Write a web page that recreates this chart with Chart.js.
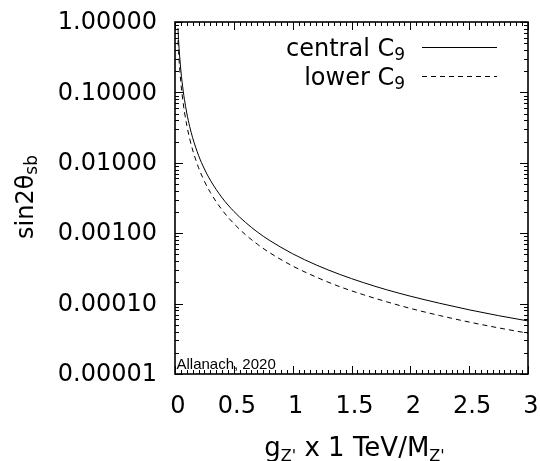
<!DOCTYPE html>
<html><head><meta charset="utf-8">
<script src="https://cdn.jsdelivr.net/npm/chart.js@4"></script>
<style>html,body{margin:0;padding:0;background:#fff}#wrap{width:540px;height:461px}</style>
</head><body><div id="wrap"><canvas id="c" width="540" height="461"></canvas></div>
<script>
// ---- data ----
const gValues   = [0.025, 0.03, 0.035, 0.04, 0.05, 0.06, 0.07, 0.08, 0.1, 0.125, 0.15, 0.2, 0.25, 0.3, 0.4, 0.5, 0.6, 0.7, 0.8, 1.0, 1.2, 1.4, 1.6, 1.8, 2.0, 2.25, 2.5, 2.75, 3.0];
const centralC9 = [0.816, 0.567, 0.416, 0.319, 0.204, 0.142, 0.104, 0.0797, 0.051, 0.0326, 0.0227, 0.01275, 0.00816, 0.00567, 0.00319, 0.00204, 0.00142, 0.00104, 0.000797, 0.00051, 0.000354, 0.00026, 0.000199, 0.000157, 0.0001275, 0.000101, 0.0000816, 0.0000674, 0.0000567];
const lowerC9   = [0.547, 0.380, 0.279, 0.214, 0.137, 0.095, 0.0698, 0.0534, 0.0342, 0.0219, 0.0152, 0.00855, 0.00547, 0.0038, 0.00214, 0.00137, 0.00095, 0.000698, 0.000534, 0.000342, 0.000238, 0.000174, 0.000134, 0.000106, 0.0000855, 0.0000676, 0.0000547, 0.0000452, 0.000038];
const seriesLabels = ['central', 'lower'];
const xTickValues = [0, 0.5, 1, 1.5, 2, 2.5, 3];
const xTickLabels = ['0', '0.5', '1', '1.5', '2', '2.5', '3'];
const yTickValues = [1e-5, 1e-4, 1e-3, 1e-2, 1e-1, 1];
const yTickLabels = ['0.00001', '0.00010', '0.00100', '0.01000', '0.10000', '1.00000'];
const creditText = 'Allanach, 2020';

const FONT = '"DejaVu Sans", sans-serif';

function toPts(xs, ys){ return xs.map((v,i)=>({x:v, y:ys[i]})); }
function zeroPad(s){ s.paddingTop = 0; s.paddingBottom = 0; s.paddingLeft = 0; s.paddingRight = 0; }

const decorPlugin = {
  id: 'decor',
  afterDatasetsDraw(chart){
    const {ctx, chartArea:a, scales:{x, y}} = chart;
    ctx.save();
    ctx.strokeStyle = '#000';
    ctx.lineWidth = 1;
    const seg = (x1,y1,x2,y2)=>{ctx.beginPath();ctx.moveTo(x1,y1);ctx.lineTo(x2,y2);ctx.stroke();};
    // x ticks (major 0.5, minor 0.05), inward, bottom and top
    for (let i=0;i<=60;i++){
      const px = Math.round(x.getPixelForValue(i*0.05)) + 0.5;
      const len = (i%10===0) ? 8 : 4;
      seg(px, a.bottom, px, a.bottom-len);
      seg(px, a.top, px, a.top+len);
    }
    // y ticks (log), inward, left and right
    for (let e=-5;e<=0;e++){
      for (let m=1;m<=9;m++){
        const v = m*Math.pow(10,e);
        if (v > 1.000001) break;
        const py = Math.round(y.getPixelForValue(v)) + 0.5;
        const len = (m===1) ? 8 : 4;
        seg(a.left, py, a.left+len, py);
        seg(a.right, py, a.right-len, py);
      }
    }
    // frame
    ctx.lineWidth = 1.6;
    ctx.strokeRect(a.left, a.top, a.right-a.left, a.bottom-a.top);

    // legend
    ctx.fillStyle = '#000';
    ctx.textBaseline = 'alphabetic';
    const big = '24px ' + FONT, small = '17px ' + FONT;
    const rightEdge = 405;
    const rows = [{y:47.3, label:seriesLabels[0], dash:[]},{y:75.7, label:seriesLabels[1], dash:[5,4]}];
    rows.forEach(r=>{
      ctx.font = small; const w9 = ctx.measureText('9').width;
      ctx.font = big; const main = r.label + ' C'; const wm = ctx.measureText(main).width;
      const base = r.y + 9;
      ctx.fillText(main, rightEdge - w9 - wm, base);
      ctx.font = small; ctx.fillText('9', rightEdge - w9, base + 4);
      ctx.lineWidth = 1; ctx.setLineDash(r.dash);
      seg(422, Math.round(r.y)+0.5, 497, Math.round(r.y)+0.5);
      ctx.setLineDash([]);
    });

    // credit
    ctx.font = '15px "Liberation Sans", Arial, sans-serif';
    ctx.fillText(creditText, 176.5, 368.5);

    // x title
    const tBig = '26px ' + FONT, tSmall = '16px ' + FONT;
    const parts = [['g',tBig,0],["Z'",tSmall,5],[' x 1 TeV/M',tBig,0],["Z'",tSmall,5]];
    let tot = 0; parts.forEach(p=>{ctx.font=p[1]; tot += ctx.measureText(p[0]).width;});
    let cx = 354.5 - tot/2;
    parts.forEach(p=>{ctx.font=p[1]; ctx.fillText(p[0], cx, 456 + p[2]); cx += ctx.measureText(p[0]).width;});

    // y title (rotated)
    ctx.translate(33, 197);
    ctx.rotate(-Math.PI/2);
    const yp = [['sin2θ',big,0],['sb',small,4]];
    tot = 0; yp.forEach(p=>{ctx.font=p[1]; tot += ctx.measureText(p[0]).width;});
    cx = -tot/2;
    yp.forEach(p=>{ctx.font=p[1]; ctx.fillText(p[0], cx, p[2]); cx += ctx.measureText(p[0]).width;});
    ctx.restore();
  }
};

new Chart(document.getElementById('c'), {
  type: 'line',
  data: {
    datasets: [
      {label: seriesLabels[0], data: toPts(gValues, centralC9), borderColor:'#000', borderWidth:1, pointRadius:0, fill:false, cubicInterpolationMode:'monotone'},
      {label: seriesLabels[1], data: toPts(gValues, lowerC9), borderColor:'#000', borderWidth:1, borderDash:[5,4], pointRadius:0, fill:false, cubicInterpolationMode:'monotone'}
    ]
  },
  options: {
    responsive: false,
    animation: false,
    layout: {padding: {left:0, right:12, top:22, bottom:0}},
    plugins: {legend:{display:false}, tooltip:{enabled:false}},
    scales: {
      x: {
        type:'linear', min:0, max:3,
        afterBuildTicks: s => { s.ticks = xTickValues.map(v=>({value:v})); },
        afterFit: s => { s.height = 87; zeroPad(s); },
        ticks: {font:{family:FONT, size:24}, color:'#000', padding:18, labelOffset:3, maxRotation:0, autoSkip:false,
                callback: (v)=> xTickLabels[xTickValues.indexOf(v)] },
        grid: {display:false, drawTicks:false, tickLength:0},
        border: {display:false}
      },
      y: {
        type:'logarithmic', min:1e-5, max:1,
        afterBuildTicks: s => { s.ticks = yTickValues.map(v=>({value:v})); },
        afterFit: s => { s.width = 175; zeroPad(s); },
        ticks: {font:{family:FONT, size:24}, color:'#000', padding:18, labelOffset:1, autoSkip:false,
                callback: (v)=> { const i = yTickValues.findIndex(t=>Math.abs(t-v)/t<1e-6); return i>=0 ? yTickLabels[i] : ''; } },
        grid: {display:false, drawTicks:false, tickLength:0},
        border: {display:false}
      }
    }
  },
  plugins: [decorPlugin]
});
</script>
</body></html>
